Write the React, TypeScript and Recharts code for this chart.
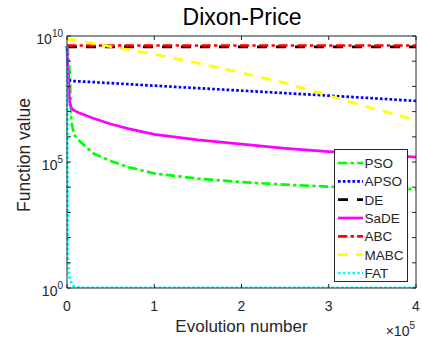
import { Legend, Line, LineChart, XAxis, YAxis } from "recharts";

// evolution number, in units of 1e5
const evo = [0, 0.01, 0.03, 0.05, 0.08, 0.15, 0.3, 0.5, 0.7, 1, 1.5, 2, 2.5, 3, 3.5, 4];

const pso = [4e9, 2.5e9, 4e8, 4e6, 1.2e6, 6.5e5, 2.2e5, 1.1e5, 6.3e4, 3.5e4, 2.2e4, 1.6e4, 1.26e4, 1.05e4, 9.1e3, 8.3e3];
const apso = [4e9, 3.2e8, 1.7e8, 1.66e8, 1.62e8, 1.58e8, 1.48e8, 1.35e8, 1.23e8, 1.07e8, 8.5e7, 6.8e7, 5.4e7, 4.3e7, 3.4e7, 2.65e7];
const de = [3.7e9, 3.7e9, 3.7e9, 3.7e9, 3.7e9, 3.7e9, 3.7e9, 3.7e9, 3.7e9, 3.7e9, 3.7e9, 3.7e9, 3.7e9, 3.7e9, 3.7e9, 3.7e9];
const sade = [4e9, 6e8, 2.4e7, 1.4e7, 1.12e7, 8.5e6, 5.4e6, 3.2e6, 2.1e6, 1.25e6, 7.6e5, 5.1e5, 3.5e5, 2.6e5, 2e5, 1.55e5];
const abc = [4.2e9, 4.2e9, 4.2e9, 4.2e9, 4.2e9, 4.2e9, 4.2e9, 4.2e9, 4.2e9, 4.2e9, 4.2e9, 4.2e9, 4.2e9, 4.2e9, 4.2e9, 4.2e9];
const mabc = [7.6e9, 7.5e9, 7.3e9, 7.2e9, 6.9e9, 6.3e9, 5e9, 3.8e9, 2.9e9, 1.9e9, 8.3e8, 3.5e8, 1.38e8, 4.3e7, 1.35e7, 4.7e6];
const fat = [4e9, 10, 2.5, 1.6, 1.15, 1.02, 1.02, 1.02, 1.02, 1.02, 1.02, 1.02, 1.02, 1.02, 1.02, 1.02];

const xTicks = [0, 1, 2, 3, 4];
const yTicks = [1, 1e1, 1e2, 1e3, 1e4, 1e5, 1e6, 1e7, 1e8, 1e9, 1e10];
const yLabelExps = [0, 5, 10];

const data = evo.map((x, i) => ({
  x,
  PSO: pso[i],
  APSO: apso[i],
  DE: de[i],
  SaDE: sade[i],
  ABC: abc[i],
  MABC: mabc[i],
  FAT: fat[i],
}));

const series = [
  { key: "PSO", color: "#00ff00", dash: "9.3 3.3 3.3 3.3" },
  { key: "APSO", color: "#0000ff", dash: "2.7 2.1" },
  { key: "DE", color: "#000000", dash: "10 9" },
  { key: "SaDE", color: "#ff00ff", dash: undefined },
  { key: "ABC", color: "#ff0000", dash: "9.3 3.3 3.3 3.3" },
  { key: "MABC", color: "#ffff00", dash: "10 8" },
  { key: "FAT", color: "#00ffff", dash: "2.7 2.1" },
];

const W = 422;
const H = 343;
const L = 67;
const R = 416;
const T = 36;
const B = 288;
const ink = "#262626";
const font = "'Liberation Sans', Arial, Helvetica, sans-serif";

const BottomTick = ({ x, payload }: any) => (
  <g>
    <line x1={x} x2={x} y1={B} y2={B - 4} stroke={ink} />
    <text x={x} y={310.5} textAnchor="middle" fontSize={14} fill={ink} fontFamily={font}>
      {payload.value}
    </text>
  </g>
);

const TopTick = ({ x }: any) => <line x1={x} x2={x} y1={T} y2={T + 4} stroke={ink} />;

const LeftTick = ({ y, payload }: any) => {
  const e = Math.round(Math.log10(payload.value));
  return (
    <g>
      <line x1={L} x2={L + 4} y1={y} y2={y} stroke={ink} />
      {yLabelExps.includes(e) && (
        <text x={63} y={y + 7.5} textAnchor="end" fontSize={14} fill={ink} fontFamily={font}>
          <tspan>10</tspan>
          <tspan dy={-7} fontSize={10}>
            {e}
          </tspan>
        </text>
      )}
    </g>
  );
};

const RightTick = ({ y }: any) => <line x1={R} x2={R - 4} y1={y} y2={y} stroke={ink} />;

const LegendBox = () => (
  <div
    style={{
      width: 74,
      height: 133,
      boxSizing: "border-box",
      border: "1px solid #262626",
      background: "#fff",
    }}
  >
    <svg width={72} height={131}>
      {series.map((s, i) => {
        const y = 13 + i * 18.33;
        return (
          <g key={s.key}>
            <line x1={3} x2={28} y1={y} y2={y} stroke={s.color} strokeWidth={2.7} strokeDasharray={s.dash} />
            <text x={29.5} y={y + 5} fontSize={13.5} fill={ink} fontFamily={font}>
              {s.key}
            </text>
          </g>
        );
      })}
    </svg>
  </div>
);

export default function App() {
  return (
    <div style={{ position: "absolute", left: 0, top: 0, width: W, height: H, background: "#fff" }}>
      <LineChart width={W} height={H} data={data} margin={{ top: 0, right: 0, bottom: 0, left: 0 }}>
        <XAxis
          xAxisId="b"
          dataKey="x"
          type="number"
          domain={[0, 4]}
          ticks={xTicks}
          height={H - B}
          axisLine={{ stroke: ink }}
          tickLine={false}
          tick={BottomTick}
        />
        <XAxis
          xAxisId="t"
          orientation="top"
          dataKey="x"
          type="number"
          domain={[0, 4]}
          ticks={xTicks}
          height={T}
          axisLine={{ stroke: ink }}
          tickLine={false}
          tick={TopTick}
        />
        <YAxis
          yAxisId="l"
          scale="log"
          domain={[1, 1e10]}
          allowDataOverflow
          ticks={yTicks}
          width={L}
          axisLine={{ stroke: ink }}
          tickLine={false}
          tick={LeftTick}
        />
        <YAxis
          yAxisId="r"
          orientation="right"
          scale="log"
          domain={[1, 1e10]}
          allowDataOverflow
          ticks={yTicks}
          width={W - R}
          axisLine={{ stroke: ink }}
          tickLine={false}
          tick={RightTick}
        />
        {series.map((s) => (
          <Line
            key={s.key}
            xAxisId="b"
            yAxisId="l"
            dataKey={s.key}
            stroke={s.color}
            strokeWidth={2.7}
            strokeDasharray={s.dash}
            dot={false}
            type="linear"
            isAnimationActive={false}
          />
        ))}
        <Legend
          layout="vertical"
          align="center"
          verticalAlign="middle"
          content={LegendBox}
          wrapperStyle={{ position: "absolute", left: 334, top: 149, width: 74, height: 133 }}
        />
        <text x={242} y={25} textAnchor="middle" fontSize={23} fill="#000" fontFamily={font}>
          Dixon-Price
        </text>
        <text x={241.5} y={331.5} textAnchor="middle" fontSize={17} fill={ink} fontFamily={font}>
          Evolution number
        </text>
        <text
          x={30}
          y={155}
          textAnchor="middle"
          fontSize={17.5}
          fill={ink}
          fontFamily={font}
          transform="rotate(-90 30 155)"
        >
          Function value
        </text>
        <text x={415} y={336} textAnchor="end" fontSize={14} fill={ink} fontFamily={font}>
          <tspan>×10</tspan>
          <tspan dy={-7} fontSize={10}>
            5
          </tspan>
        </text>
      </LineChart>
    </div>
  );
}
